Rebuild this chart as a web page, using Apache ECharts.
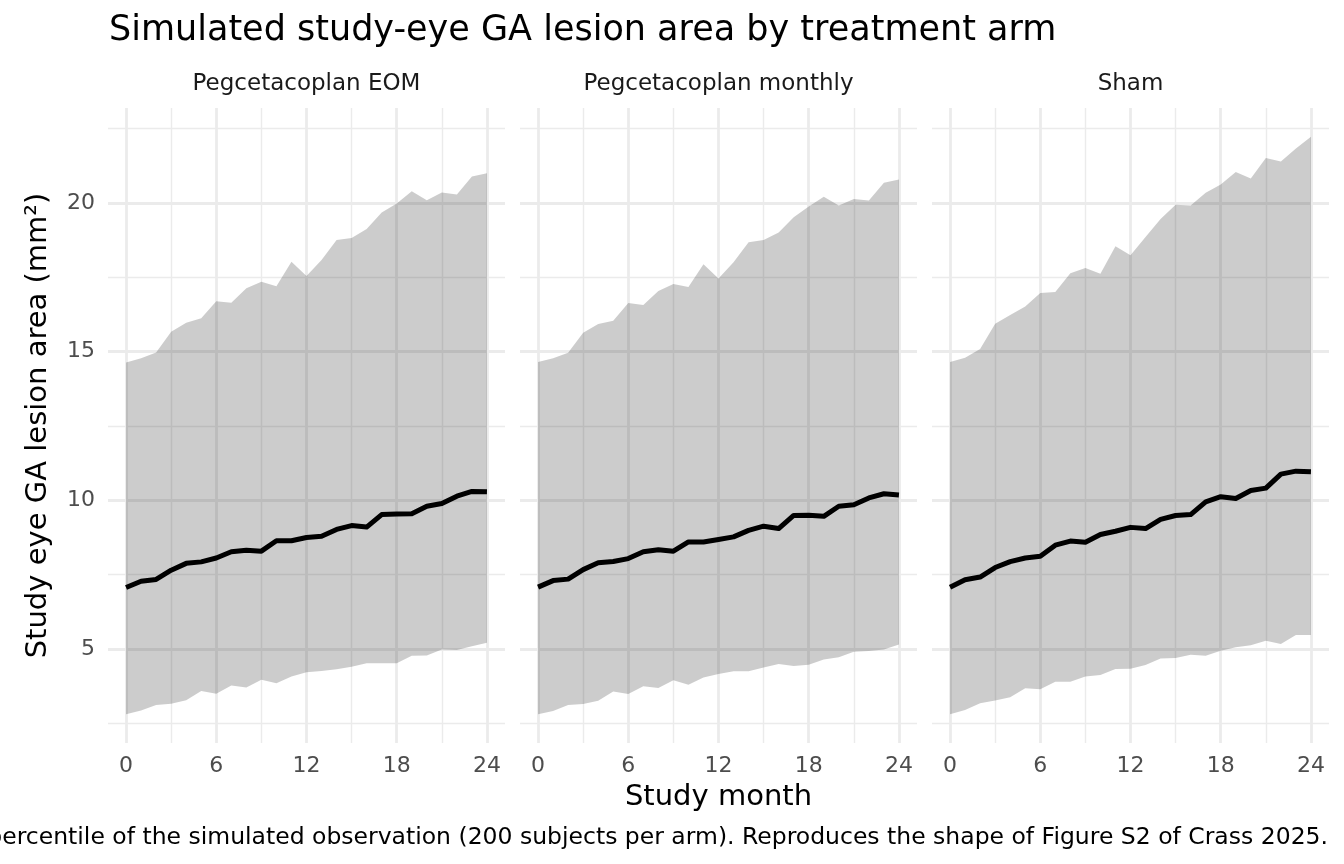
<!DOCTYPE html>
<html>
<head>
<meta charset="utf-8">
<title>GA lesion area by treatment arm</title>
<script src="https://cdn.jsdelivr.net/npm/echarts@6/dist/echarts.min.js"></script>
<style>
	html, body { margin: 0; padding: 0; background: #ffffff; }
	#main { width: 1344px; height: 864px; }
</style>
</head>
<body>
<div id="main"></div>
<script>
	// study months (x)
	var months = [0, 1, 2, 3, 4, 5, 6, 7, 8, 9, 10, 11, 12, 13, 14, 15, 16, 17, 18, 19, 20, 21, 22, 23, 24];

	// panel titles
	var arms = ['Pegcetacoplan EOM', 'Pegcetacoplan monthly', 'Sham'];

	// Pegcetacoplan EOM
	var eomLower = [2.81, 2.93, 3.12, 3.16, 3.28, 3.59, 3.50, 3.77, 3.71, 3.97, 3.85, 4.08, 4.22, 4.26, 4.32, 4.40, 4.52, 4.52, 4.52, 4.77, 4.78, 4.98, 4.97, 5.09, 5.21];
	var eomMedian = [7.07, 7.28, 7.34, 7.65, 7.88, 7.93, 8.06, 8.27, 8.32, 8.29, 8.64, 8.64, 8.75, 8.79, 9.02, 9.15, 9.10, 9.52, 9.54, 9.55, 9.80, 9.89, 10.14, 10.30, 10.29];
	var eomUpper = [14.63, 14.78, 14.97, 15.67, 15.97, 16.12, 16.69, 16.64, 17.13, 17.35, 17.20, 18.02, 17.54, 18.08, 18.75, 18.82, 19.12, 19.68, 19.98, 20.39, 20.09, 20.35, 20.28, 20.89, 21.00];

	// Pegcetacoplan monthly
	var monthlyLower = [2.81, 2.92, 3.12, 3.15, 3.26, 3.57, 3.49, 3.75, 3.69, 3.95, 3.80, 4.04, 4.16, 4.25, 4.25, 4.38, 4.50, 4.43, 4.47, 4.65, 4.72, 4.91, 4.93, 4.98, 5.15];
	var monthlyMedian = [7.08, 7.30, 7.35, 7.67, 7.90, 7.94, 8.04, 8.27, 8.34, 8.29, 8.60, 8.60, 8.68, 8.77, 8.99, 9.13, 9.05, 9.49, 9.50, 9.46, 9.80, 9.85, 10.08, 10.22, 10.18];
	var monthlyUpper = [14.65, 14.78, 14.96, 15.63, 15.93, 16.04, 16.63, 16.57, 17.04, 17.27, 17.17, 17.94, 17.46, 18.00, 18.68, 18.75, 19.00, 19.52, 19.88, 20.21, 19.91, 20.13, 20.08, 20.68, 20.79];

	// Sham
	var shamLower = [2.81, 2.95, 3.18, 3.27, 3.38, 3.68, 3.65, 3.90, 3.90, 4.08, 4.13, 4.33, 4.34, 4.46, 4.68, 4.70, 4.81, 4.77, 4.94, 5.06, 5.13, 5.28, 5.17, 5.47, 5.47];
	var shamMedian = [7.08, 7.33, 7.42, 7.74, 7.94, 8.06, 8.12, 8.49, 8.63, 8.59, 8.85, 8.96, 9.09, 9.05, 9.36, 9.49, 9.52, 9.95, 10.12, 10.06, 10.33, 10.41, 10.88, 10.98, 10.96];
	var shamUpper = [14.65, 14.79, 15.09, 15.94, 16.23, 16.52, 16.97, 17.00, 17.63, 17.81, 17.62, 18.54, 18.24, 18.85, 19.46, 19.94, 19.91, 20.34, 20.62, 21.04, 20.82, 21.51, 21.39, 21.83, 22.22];

	// tick labels / grid breaks
	var xTicks = [0, 6, 12, 18, 24];
	var xMinorTicks = [3, 9, 15, 21];
	var yTicks = [5, 10, 15, 20];
	var yMinorTicks = [2.5, 7.5, 12.5, 17.5, 22.5];

	var lowerList = [eomLower, monthlyLower, shamLower];
	var medianList = [eomMedian, monthlyMedian, shamMedian];
	var upperList = [eomUpper, monthlyUpper, shamUpper];

	var FONT = 'DejaVu Sans';
	var panelLeft = 108, panelWidth = 397, panelGap = 15, panelTop = 108, panelHeight = 635;
	var xMin = -1.2, xMax = 25.2, yMin = 1.84, yMax = 23.19;

	// [x, y] pairs
	function toPairs(vals) {
		var arr = [];
		for (var i = 0; i < months.length; i++) {
			arr.push([months[i], vals[i]]);
		}
		return arr;
	}

	// [x, lower, upper] rows for the band
	function toBandRows(lo, hi) {
		var arr = [];
		for (var i = 0; i < months.length; i++) {
			arr.push([months[i], lo[i], hi[i]]);
		}
		return arr;
	}

	// one polygon per panel: upper edge left->right, lower edge right->left
	function bandRenderer(lo, hi) {
		return function(params, api) {
			if (params.dataIndex !== 0) {
				return null;
			}
			var pts = [];
			for (var i = 0; i < months.length; i++) {
				pts.push(api.coord([months[i], hi[i]]));
			}
			for (var j = months.length - 1; j >= 0; j--) {
				pts.push(api.coord([months[j], lo[j]]));
			}
			return {
				type: 'polygon',
				shape: { points: pts },
				style: { fill: 'rgba(0,0,0,0.2)' },
				silent: true
			};
		};
	}

	var grids = [], xAxes = [], yAxes = [], series = [], graphics = [];

	for (var p = 0; p < arms.length; p++) {
		var left = panelLeft + p * (panelWidth + panelGap);
		grids.push({ left: left, top: panelTop, width: panelWidth, height: panelHeight });

		// major x grid + labels
		xAxes.push({
			gridIndex: p, type: 'value', min: xMin, max: xMax,
			axisLine: { show: false },
			axisTick: { show: false, customValues: xTicks },
			axisLabel: { customValues: xTicks, color: '#4D4D4D', fontSize: 22, fontFamily: FONT, margin: 12 },
			splitLine: { show: true, lineStyle: { color: '#EBEBEB', width: 2.8 } }
		});
		// minor x grid
		xAxes.push({
			gridIndex: p, type: 'value', min: xMin, max: xMax, position: 'bottom',
			axisLine: { show: false },
			axisTick: { show: false, customValues: xMinorTicks },
			axisLabel: { show: false, customValues: xMinorTicks },
			splitLine: { show: true, lineStyle: { color: '#EBEBEB', width: 1.4 } }
		});

		var yMajor = {
			gridIndex: p, type: 'value', min: yMin, max: yMax,
			axisLine: { show: false },
			axisTick: { show: false, customValues: yTicks },
			axisLabel: { show: p == 0, customValues: yTicks, color: '#4D4D4D', fontSize: 22, fontFamily: FONT, margin: 13 },
			splitLine: { show: true, lineStyle: { color: '#EBEBEB', width: 2.8 } }
		};
		if (p == 0) {
			yMajor.name = 'Study eye GA lesion area (mm\u00B2)';
			yMajor.nameLocation = 'middle';
			yMajor.nameGap = 55;
			yMajor.nameTextStyle = { color: '#000000', fontSize: 29, fontFamily: FONT };
		}
		yAxes.push(yMajor);
		// minor y grid
		yAxes.push({
			gridIndex: p, type: 'value', min: yMin, max: yMax, position: 'left',
			axisLine: { show: false },
			axisTick: { show: false, customValues: yMinorTicks },
			axisLabel: { show: false, customValues: yMinorTicks },
			splitLine: { show: true, lineStyle: { color: '#EBEBEB', width: 1.4 } }
		});

		var xi = p * 2, yi = p * 2;
		// 95% band (lower to upper percentile)
		series.push({
			type: 'custom', xAxisIndex: xi, yAxisIndex: yi,
			data: toBandRows(lowerList[p], upperList[p]),
			encode: { x: 0, y: [1, 2] },
			renderItem: bandRenderer(lowerList[p], upperList[p]),
			silent: true, z: 1
		});
		// median
		series.push({
			type: 'line', xAxisIndex: xi, yAxisIndex: yi,
			data: toPairs(medianList[p]), symbol: 'none', z: 2,
			lineStyle: { color: '#000000', width: 5, join: 'round' }
		});

		// strip label
		graphics.push({
			type: 'text', x: left + panelWidth / 2, y: 84,
			style: { text: arms[p], fill: '#1A1A1A', font: '23px "' + FONT + '"', textAlign: 'center', textVerticalAlign: 'middle' }
		});
	}

	// x-axis title
	graphics.push({
		type: 'text', x: panelLeft + (3 * panelWidth + 2 * panelGap) / 2, y: 797,
		style: { text: 'Study month', fill: '#000000', font: '29px "' + FONT + '"', textAlign: 'center', textVerticalAlign: 'middle' }
	});
	// caption (cut off on the left, as in the source)
	graphics.push({
		type: 'text', x: 1328, y: 838,
		style: { text: 'percentile of the simulated observation (200 subjects per arm). Reproduces the shape of Figure S2 of Crass 2025.', fill: '#000000', font: '23.5px "' + FONT + '"', textAlign: 'right', textVerticalAlign: 'middle' }
	});

	var myChart = echarts.init(document.getElementById('main'), null, { renderer: 'canvas' });
	myChart.setOption({
		animation: false,
		backgroundColor: '#ffffff',
		title: {
			text: 'Simulated study-eye GA lesion area by treatment arm',
			left: 104, top: 8,
			textStyle: { color: '#000000', fontSize: 35, fontWeight: 'normal', fontFamily: FONT }
		},
		grid: grids,
		xAxis: xAxes,
		yAxis: yAxes,
		series: series,
		graphic: graphics
	});
</script>
</body>
</html>
